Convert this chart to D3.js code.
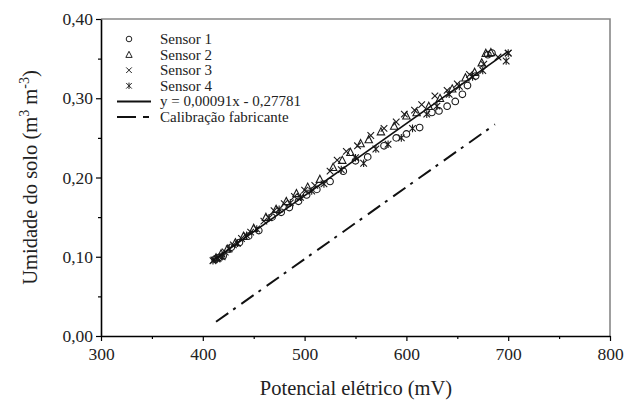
<!DOCTYPE html>
<html>
<head>
<meta charset="utf-8">
<script src="https://cdn.jsdelivr.net/npm/d3@7"></script>
<style>
  body { margin: 0; background: #fff; }
  svg { font-family: "Liberation Serif", "DejaVu Serif", serif; }
</style>
</head>
<body>
<svg width="627" height="405"></svg>
<script>
// data (x = mV, y = m3 m-3)
const sensor1 = [[412,0.097],[416,0.099],[420,0.101],[428,0.112],[436,0.118],[445,0.126],[455,0.133],[468,0.150],[477,0.156],[485,0.162],[494,0.170],[502,0.178],[512,0.185],[525,0.195],[538,0.208],[550,0.221],[562,0.226],[578,0.240],[590,0.250],[600,0.255],[613,0.263],[625,0.282],[632,0.284],[640,0.290],[648,0.296],[655,0.305],[660,0.316],[668,0.328],[680,0.355],[684,0.357]];
const sensor2 = [[413,0.099],[418,0.104],[424,0.110],[432,0.118],[440,0.126],[450,0.136],[462,0.150],[472,0.160],[482,0.170],[492,0.180],[503,0.188],[515,0.198],[528,0.213],[537,0.222],[545,0.232],[555,0.243],[563,0.248],[575,0.258],[588,0.265],[600,0.278],[610,0.282],[622,0.290],[633,0.300],[645,0.312],[658,0.326],[667,0.333],[674,0.345],[678,0.357],[683,0.358]];
const sensor3 = [[411,0.096],[415,0.098],[422,0.106],[430,0.115],[438,0.123],[447,0.131],[460,0.145],[470,0.158],[480,0.167],[490,0.176],[500,0.184],[510,0.190],[525,0.208],[532,0.222],[541,0.233],[552,0.240],[565,0.253],[578,0.262],[590,0.270],[598,0.280],[608,0.285],[615,0.292],[628,0.303],[640,0.310],[650,0.318],[662,0.330],[676,0.343],[690,0.352],[700,0.357]];
const sensor4 = [[410,0.095],[414,0.097],[419,0.100],[426,0.110],[434,0.117],[443,0.127],[453,0.135],[465,0.149],[475,0.160],[486,0.168],[496,0.175],[507,0.183],[519,0.192],[536,0.210],[550,0.225],[558,0.218],[570,0.236],[582,0.242],[595,0.250],[606,0.262],[620,0.280],[630,0.290],[642,0.305],[652,0.315],[665,0.327],[675,0.335],[698,0.347],[700,0.357]];

// fitted line y = 0.00091x - 0.27781, drawn between these x values
const fitSlope = 0.00091;
const fitIntercept = -0.27781;
const fitRange = [410, 700];
// manufacturer calibration, two end points
const calibX = [413, 687];
const calibY = [0.018, 0.267];

const xTicks = [300, 400, 500, 600, 700, 800];
const xMinor = [350, 450, 550, 650, 750];
const yTicks = [0, 0.1, 0.2, 0.3, 0.4];
const yMinor = [0.05, 0.15, 0.25, 0.35];

const legendLabels = ["Sensor 1", "Sensor 2", "Sensor 3", "Sensor 4",
  "y = 0,00091x - 0,27781", "Calibração fabricante"];

const svg = d3.select("svg");
const mLeft = 101, mRight = 610, mTop = 19, mBottom = 336;

const x = d3.scaleLinear().domain([300, 800]).range([mLeft, mRight]);
const y = d3.scaleLinear().domain([0, 0.4]).range([mBottom, mTop]);

const fmt = d => d3.format(".2f")(d).replace(".", ",");

// top and right frame (grey)
svg.append("path")
  .attr("d", `M${mLeft},${mTop}H${mRight}V${mBottom}`)
  .attr("fill", "none").attr("stroke", "#888").attr("stroke-width", 1.6);

// axes
svg.append("g").attr("transform", `translate(0,${mBottom})`)
  .call(d3.axisBottom(x).tickValues(xTicks).tickSize(5).tickSizeOuter(0).tickPadding(7));
svg.append("g").attr("transform", `translate(0,${mBottom})`)
  .call(d3.axisBottom(x).tickValues(xMinor).tickSize(3).tickFormat(""))
  .call(g => g.select(".domain").remove());

svg.append("g").attr("transform", `translate(${mLeft},0)`)
  .call(d3.axisLeft(y).tickValues(yTicks).tickFormat(fmt).tickSize(5).tickSizeOuter(0).tickPadding(3));
svg.append("g").attr("transform", `translate(${mLeft},0)`)
  .call(d3.axisLeft(y).tickValues(yMinor).tickSize(3).tickFormat(""))
  .call(g => g.select(".domain").remove());

svg.selectAll(".tick line").attr("stroke", "#000").attr("stroke-width", 1.2);
svg.selectAll(".domain").attr("stroke", "#000").attr("stroke-width", 1.6);
svg.selectAll(".tick text")
  .attr("font-family", "Liberation Serif").attr("font-size", 17.5).attr("fill", "#222");

// axis titles
svg.append("text")
  .attr("x", 356).attr("y", 395)
  .attr("text-anchor", "middle").attr("font-size", 20.5).attr("fill", "#222")
  .text("Potencial elétrico (mV)");

const yt = svg.append("text")
  .attr("transform", `translate(37,${(mTop + mBottom) / 2}) rotate(-90)`)
  .attr("text-anchor", "middle").attr("font-size", 20.5).attr("fill", "#222");
yt.append("tspan").text("Umidade do solo (m");
yt.append("tspan").attr("dy", -8).attr("font-size", 14).text("3");
yt.append("tspan").attr("dy", 8).text(" m");
yt.append("tspan").attr("dy", -8).attr("font-size", 14).text("-3");
yt.append("tspan").attr("dy", 8).text(")");

// marker shapes
const s = 3.3;
const markers = {
  circle: (g, k) => g.append("circle").attr("r", s * k),
  triangle: (g, k) => g.append("path").attr("d", `M0,${(-s - 0.6) * k}L${(s + 0.4) * k},${s * k}L${(-s - 0.4) * k},${s * k}Z`),
  cross: (g, k) => g.append("path").attr("d", `M${-s * k},${-s * k}L${s * k},${s * k}M${-s * k},${s * k}L${s * k},${-s * k}`),
  star: (g, k) => g.append("path").attr("d", `M${-s * k},${-s * k}L${s * k},${s * k}M${-s * k},${s * k}L${s * k},${-s * k}M0,${(-s - 0.5) * k}V${(s + 0.5) * k}`)
};
const series = [
  { data: sensor1, shape: "circle" },
  { data: sensor2, shape: "triangle" },
  { data: sensor3, shape: "cross" },
  { data: sensor4, shape: "star" }
];

const plot = svg.append("g");

// calibration (dash-dot)
plot.append("line")
  .attr("x1", x(calibX[0])).attr("y1", y(calibY[0]))
  .attr("x2", x(calibX[1])).attr("y2", y(calibY[1]))
  .attr("stroke", "#111").attr("stroke-width", 2)
  .attr("stroke-dasharray", "15,6,3,7");

series.forEach(sr => {
  plot.append("g").selectAll("g").data(sr.data).enter().append("g")
    .attr("transform", d => `translate(${x(d[0])},${y(d[1])})`)
    .each(function () { markers[sr.shape](d3.select(this), 1); })
    .selectAll("*")
    .attr("fill", "none").attr("stroke", "#1a1a1a").attr("stroke-width", 1.1);
});

// fitted line
plot.append("line")
  .attr("x1", x(fitRange[0])).attr("y1", y(fitSlope * fitRange[0] + fitIntercept))
  .attr("x2", x(fitRange[1])).attr("y2", y(fitSlope * fitRange[1] + fitIntercept))
  .attr("stroke", "#111").attr("stroke-width", 1.7);

// legend
const lg = svg.append("g").attr("font-size", 15).attr("fill", "#222");
legendLabels.forEach((t, i) => {
  const ly = 39 + i * 15.6;
  const row = lg.append("g").attr("transform", `translate(0,${ly})`);
  if (i < 4) {
    const m = row.append("g").attr("transform", "translate(129,0)");
    markers[series[i].shape](m, 0.85);
    m.selectAll("*").attr("fill", "none").attr("stroke", "#222").attr("stroke-width", 1);
  } else {
    row.append("line").attr("x1", 117).attr("x2", 151).attr("y1", 0).attr("y2", 0)
      .attr("stroke", "#111").attr("stroke-width", 2)
      .attr("stroke-dasharray", i === 5 ? "19,7,6,10" : null);
  }
  row.append("text").attr("x", 160).attr("y", 5).text(t);
});
</script>
</body>
</html>
